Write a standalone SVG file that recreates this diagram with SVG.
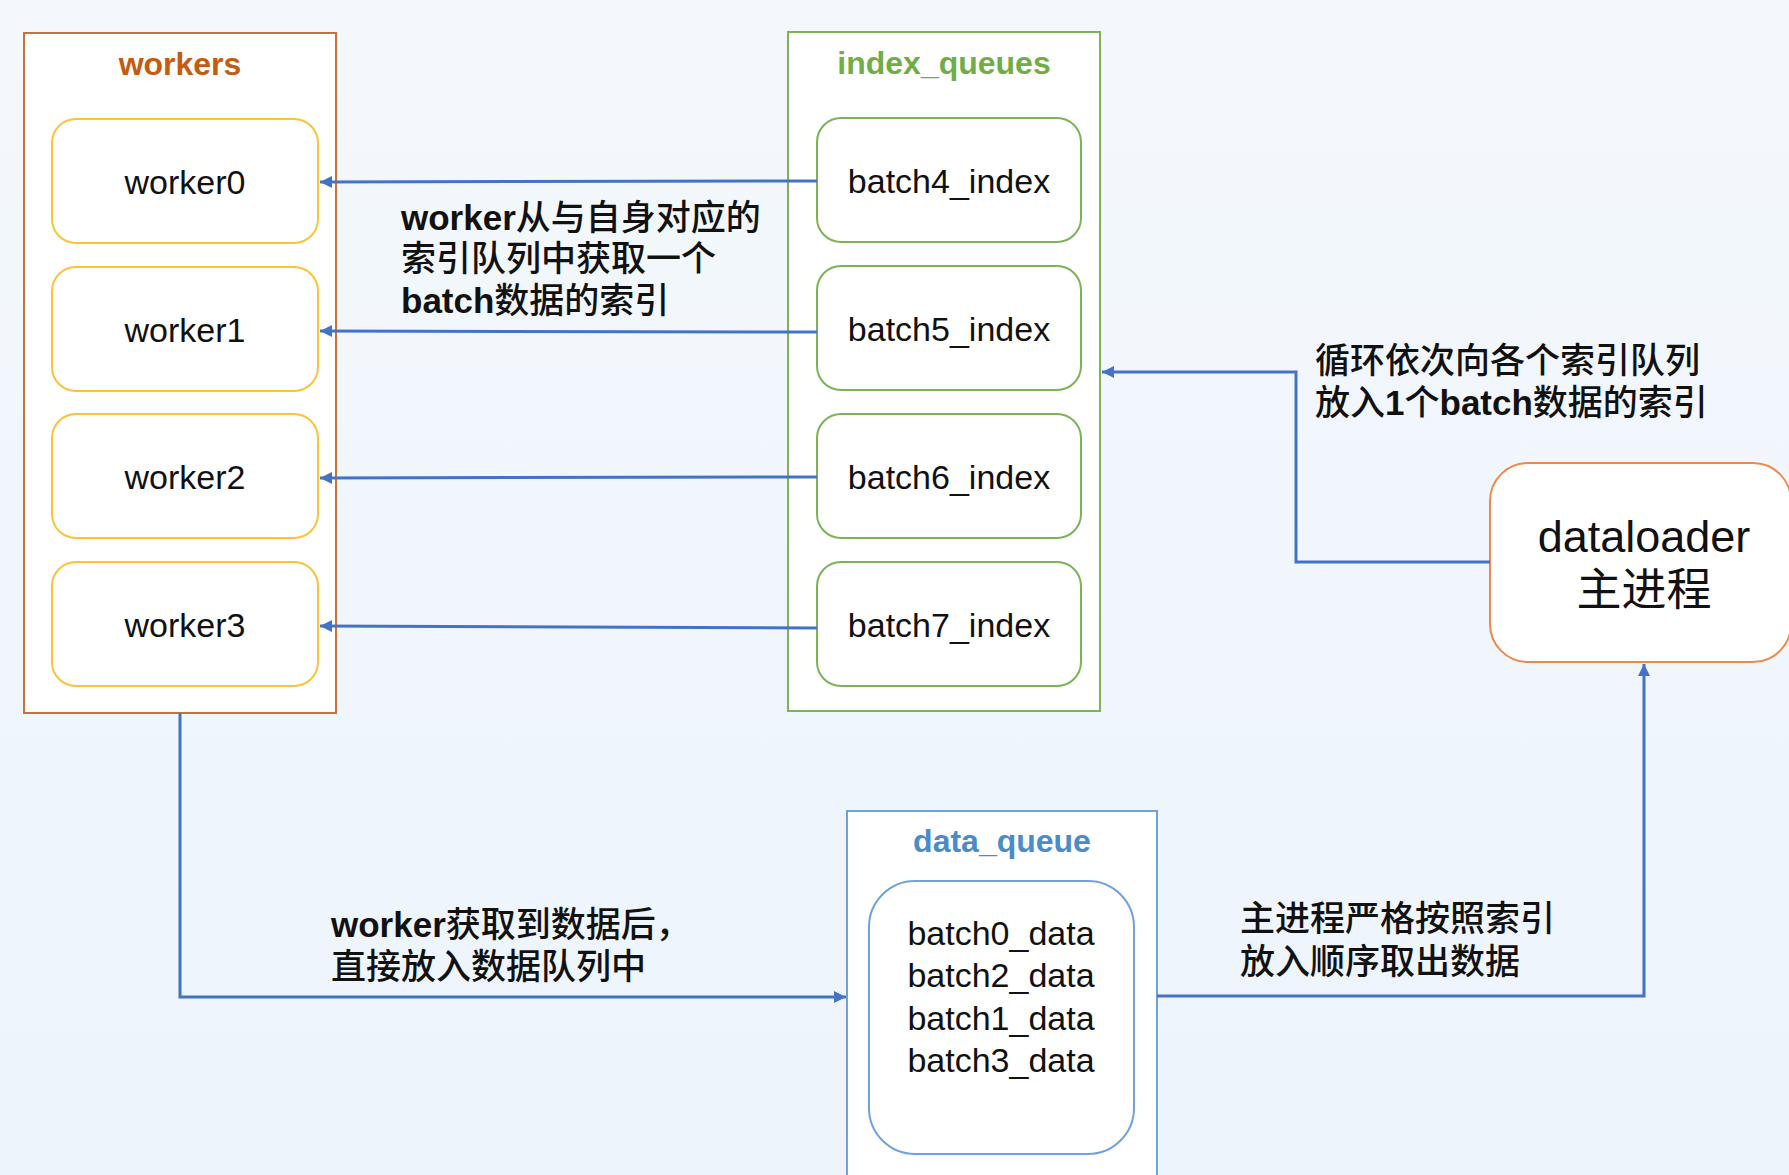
<svg xmlns="http://www.w3.org/2000/svg" width="1789" height="1175" viewBox="0 0 1789 1175">
  <defs>
    <linearGradient id="bg" x1="0" y1="0" x2="0" y2="1">
      <stop offset="0" stop-color="#F4F8FC"/>
      <stop offset="1" stop-color="#EDF4FC"/>
    </linearGradient>
    <marker id="arr" markerUnits="userSpaceOnUse" markerWidth="13" markerHeight="12" refX="12" refY="6" orient="auto">
      <path d="M0,0 L12,6 L0,12 z" fill="#4472C4"/>
    </marker>
    <style>
      text { font-family: "Liberation Sans", "Noto Sans CJK SC", sans-serif; }
      .frame { fill: #FFFFFF; stroke-width: 2; }
      .title { font-size: 32px; font-weight: bold; text-anchor: middle; }
      .worker { fill: #FFFFFF; stroke: #F9C33A; stroke-width: 2; }
      .idx { fill: #FFFFFF; stroke: #7BB356; stroke-width: 2; }
      .lbl { font-size: 34px; fill: #111111; text-anchor: middle; }
      .note { font-size: 35px; font-weight: 500; fill: #111111; }
      .lat { font-weight: bold; }
      .conn { fill: none; stroke: #4472C4; stroke-width: 3; marker-end: url(#arr); }
    </style>
  </defs>
  <rect x="0" y="0" width="1789" height="1175" fill="url(#bg)"/>

  <g id="workers">
    <rect class="frame" x="24" y="33" width="312" height="680" stroke="#C9703D"/>
    <text class="title" x="180" y="75" fill="#C55A11">workers</text>
  </g>
  <g id="worker0">
    <rect class="worker" x="52" y="119" width="266" height="124" rx="24"/>
    <text class="lbl" x="185" y="194">worker0</text>
  </g>
  <g id="worker1">
    <rect class="worker" x="52" y="267" width="266" height="124" rx="24"/>
    <text class="lbl" x="185" y="342">worker1</text>
  </g>
  <g id="worker2">
    <rect class="worker" x="52" y="414" width="266" height="124" rx="24"/>
    <text class="lbl" x="185" y="489">worker2</text>
  </g>
  <g id="worker3">
    <rect class="worker" x="52" y="562" width="266" height="124" rx="24"/>
    <text class="lbl" x="185" y="637">worker3</text>
  </g>

  <g id="index_queues">
    <rect class="frame" x="788" y="32" width="312" height="679" stroke="#7BB356"/>
    <text class="title" x="944" y="74" fill="#70AD47">index_queues</text>
  </g>
  <g id="batch4_index">
    <rect class="idx" x="817" y="118" width="264" height="124" rx="24"/>
    <text class="lbl" x="949" y="193">batch4_index</text>
  </g>
  <g id="batch5_index">
    <rect class="idx" x="817" y="266" width="264" height="124" rx="24"/>
    <text class="lbl" x="949" y="341">batch5_index</text>
  </g>
  <g id="batch6_index">
    <rect class="idx" x="817" y="414" width="264" height="124" rx="24"/>
    <text class="lbl" x="949" y="489">batch6_index</text>
  </g>
  <g id="batch7_index">
    <rect class="idx" x="817" y="562" width="264" height="124" rx="24"/>
    <text class="lbl" x="949" y="637">batch7_index</text>
  </g>

  <g id="dataloader">
    <rect x="1490" y="463" width="301" height="199" rx="38" fill="#FFFFFF" stroke="#EC8A4C" stroke-width="2"/>
    <text x="1644" y="552" font-size="45" text-anchor="middle" fill="#111111">dataloader</text>
    <text x="1644" y="606" font-size="45" text-anchor="middle" fill="#111111">主进程</text>
  </g>

  <g id="data_queue">
    <rect class="frame" x="847" y="811" width="310" height="380" stroke="#6FA3D8"/>
    <text class="title" x="1002" y="852" fill="#4A8BC9">data_queue</text>
    <rect x="869" y="881" width="265" height="273" rx="46" fill="#FFFFFF" stroke="#6FA3D8" stroke-width="2"/>
    <text class="lbl" x="1001" y="945">batch0_data</text>
    <text class="lbl" x="1001" y="987">batch2_data</text>
    <text class="lbl" x="1001" y="1030">batch1_data</text>
    <text class="lbl" x="1001" y="1072">batch3_data</text>
  </g>

  <g id="connectors">
    <path class="conn" d="M817,181 L320,182"/>
    <path class="conn" d="M817,332 L320,331"/>
    <path class="conn" d="M817,477 L320,478"/>
    <path class="conn" d="M817,628 L320,626"/>
    <path class="conn" d="M1490,562 L1296,562 L1296,372 L1102,372"/>
    <path class="conn" d="M180,713 L180,997 L846,997"/>
    <path class="conn" d="M1157,996 L1644,996 L1644,664"/>
  </g>

  <g id="labels">
    <text class="note" x="401" y="230"><tspan class="lat">worker</tspan>从与自身对应的</text>
    <text class="note" x="401" y="271">索引队列中获取一个</text>
    <text class="note" x="401" y="313"><tspan class="lat">batch</tspan>数据的索引</text>
    <text class="note" x="1315" y="373" font-size="36">循环依次向各个索引队列</text>
    <text class="note" x="1315" y="415" font-size="36">放入<tspan class="lat">1</tspan>个<tspan class="lat">batch</tspan>数据的索引</text>
    <text class="note" x="331" y="937"><tspan class="lat">worker</tspan>获取到数据后，</text>
    <text class="note" x="331" y="979">直接放入数据队列中</text>
    <text class="note" x="1240" y="931">主进程严格按照索引</text>
    <text class="note" x="1240" y="974">放入顺序取出数据</text>
  </g>
</svg>
